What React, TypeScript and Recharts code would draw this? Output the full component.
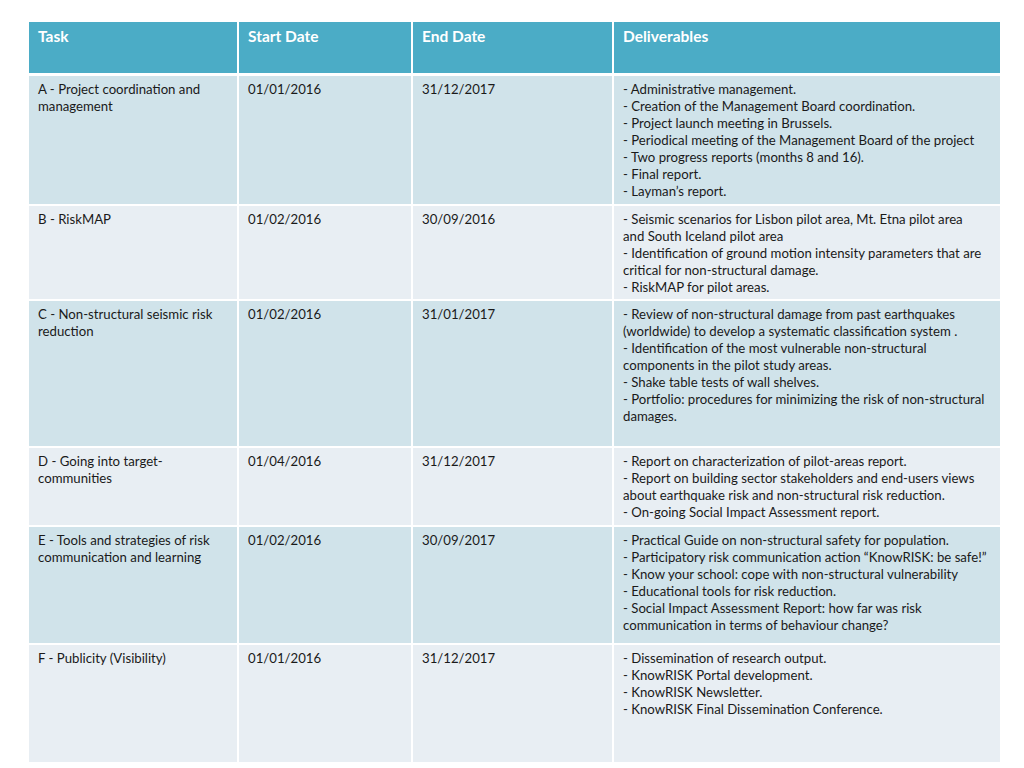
import React from 'react';
import { ComposedChart, XAxis, YAxis, ReferenceArea } from 'recharts';

const headers = ['Task', 'Start Date', 'End Date', 'Deliverables'];

const tasks = [
  ['A - Project coordination and', 'management'],
  ['B - RiskMAP'],
  ['C - Non-structural seismic risk', 'reduction'],
  ['D - Going into target-', 'communities'],
  ['E - Tools and strategies of risk', 'communication and learning'],
  ['F - Publicity (Visibility)'],
];

const startDates = ['01/01/2016', '01/02/2016', '01/02/2016', '01/04/2016', '01/02/2016', '01/01/2016'];
const endDates = ['31/12/2017', '30/09/2016', '31/01/2017', '31/12/2017', '30/09/2017', '31/12/2017'];

const deliverables = [
  [
    '- Administrative management.',
    '- Creation of the Management Board coordination.',
    '- Project launch meeting in Brussels.',
    '- Periodical meeting of the Management Board of the project',
    '- Two progress reports (months 8 and 16).',
    '- Final report.',
    '- Layman’s report.',
  ],
  [
    '- Seismic scenarios for Lisbon pilot area, Mt. Etna pilot area',
    'and South Iceland pilot area',
    '- Identification of ground motion intensity parameters that are',
    'critical for non-structural damage.',
    '- RiskMAP for pilot areas.',
  ],
  [
    '- Review of non-structural damage from past earthquakes',
    '(worldwide) to develop a systematic classification system .',
    '- Identification of the most vulnerable non-structural',
    'components in the pilot study areas.',
    '- Shake table tests of wall shelves.',
    '- Portfolio: procedures for minimizing the risk of non-structural',
    'damages.',
  ],
  [
    '- Report on characterization of pilot-areas report.',
    '- Report on building sector stakeholders and end-users views',
    'about earthquake risk and non-structural risk reduction.',
    '- On-going Social Impact Assessment report.',
  ],
  [
    '- Practical Guide on non-structural safety for population.',
    '- Participatory risk communication action “KnowRISK: be safe!”',
    '- Know your school: cope with non-structural vulnerability',
    '- Educational tools for risk reduction.',
    '- Social Impact Assessment Report: how far was risk',
    'communication in terms of behaviour change?',
  ],
  [
    '- Dissemination of research output.',
    '- KnowRISK Portal development.',
    '- KnowRISK Newsletter.',
    '- KnowRISK Final Dissemination Conference.',
  ],
];

// layout (page pixels)
const colBands = [[29, 237], [239, 411], [413, 612], [614, 1000]];
const headerBand = [22, 73];
const rowBands = [[76, 204], [206, 299], [301, 446], [448, 525], [527, 643], [645, 762]];

const FONT = 'Lato, "Open Sans", sans-serif';
const HEADER_BG = '#4BACC6';
const ROW_DARK = '#D0E3EA';
const ROW_LIGHT = '#E8EEF3';

const cellText = (lines: string[], header: boolean) => (props: any) => {
  const { x, y } = props.viewBox;
  const tx = x + 9;
  return (
    <text
      x={tx}
      y={y + (header ? 20 : 18)}
      fontFamily={FONT}
      fontSize={header ? 15.5 : 13.2}
      fontWeight={header ? 700 : 400}
      fill={header ? '#ffffff' : '#1a1a1a'}
    >
      {lines.map((l, i) => (
        <tspan key={i} x={tx} dy={i === 0 ? 0 : 17}>
          {l}
        </tspan>
      ))}
    </text>
  );
};

export default function App() {
  const data = tasks.map((t, i) => ({ row: i }));
  const cells: React.ReactNode[] = [];

  headers.forEach((h, c) => {
    cells.push(
      <ReferenceArea
        key={`h${c}`}
        x1={colBands[c][0]}
        x2={colBands[c][1]}
        y1={headerBand[0]}
        y2={headerBand[1]}
        fill={HEADER_BG}
        fillOpacity={1}
        stroke="none"
        label={cellText([h], true)}
      />
    );
  });

  tasks.forEach((t, r) => {
    const cols = [t, [startDates[r]], [endDates[r]], deliverables[r]];
    cols.forEach((lines, c) => {
      cells.push(
        <ReferenceArea
          key={`c${r}-${c}`}
          x1={colBands[c][0]}
          x2={colBands[c][1]}
          y1={rowBands[r][0]}
          y2={rowBands[r][1]}
          fill={r % 2 === 0 ? ROW_DARK : ROW_LIGHT}
          fillOpacity={1}
          stroke="none"
          label={cellText(lines, false)}
        />
      );
    });
  });

  return (
    <ComposedChart
      width={1016}
      height={760}
      data={data}
      margin={{ top: 0, right: 0, bottom: 0, left: 0 }}
    >
      <XAxis type="number" dataKey="row" domain={[8, 1024]} hide allowDataOverflow />
      <YAxis type="number" domain={[8, 768]} reversed hide allowDataOverflow />
      {cells}
    </ComposedChart>
  );
}
